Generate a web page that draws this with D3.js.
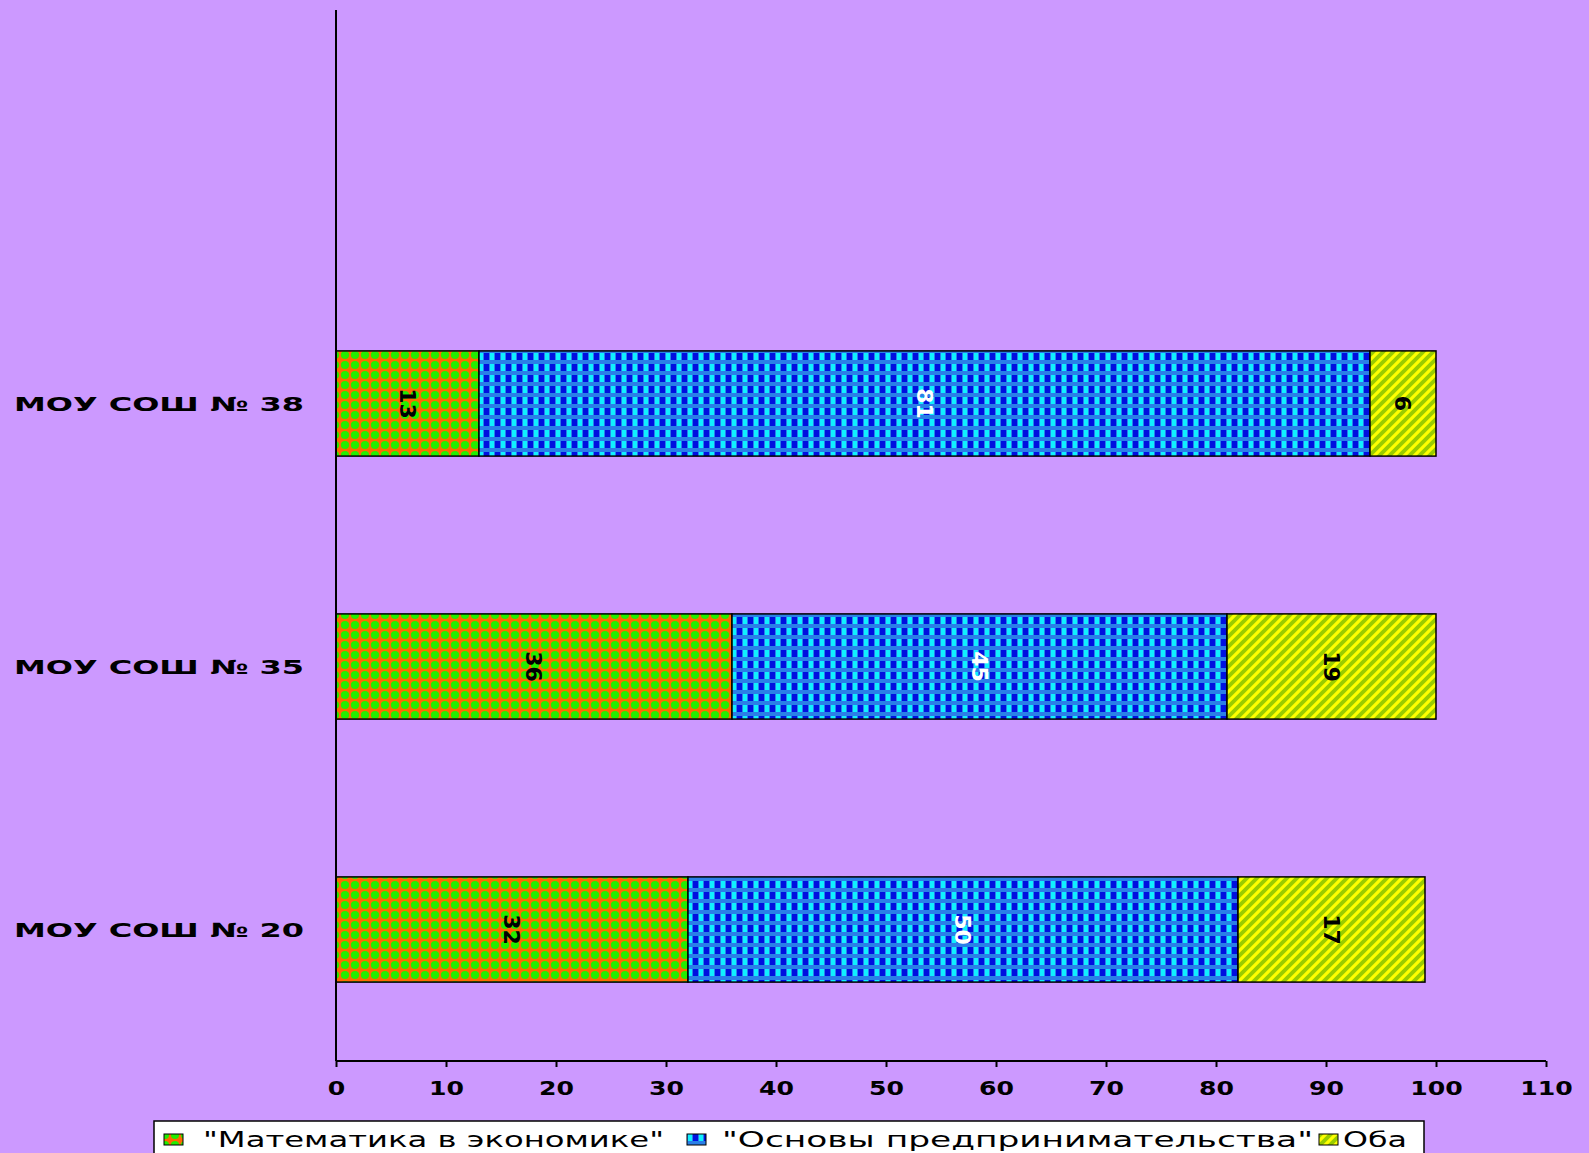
<!DOCTYPE html>
<html>
<head>
<meta charset="utf-8">
<script src="https://cdn.jsdelivr.net/npm/d3@7"></script>
<style>
  html, body { margin: 0; padding: 0; background: #CC99FF; }
  svg { display: block; }
</style>
</head>
<body>
<svg id="chart" width="1589" height="1153"></svg>
<script>
// ---- data ----
const categories = ["МОУ СОШ № 38", "МОУ СОШ № 35", "МОУ СОШ № 20"];
const seriesNames = ["\"Математика в экономике\"", "\"Основы предпринимательства\"", "Оба"];
const mathValues = [13, 36, 32];
const osnovyValues = [81, 45, 50];
const bothValues = [6, 19, 17];
const xTicks = [0, 10, 20, 30, 40, 50, 60, 70, 80, 90, 100, 110];

const W = 1589, H = 1153;
const svg = d3.select("#chart");

// ---- patterns ----
const defs = svg.append("defs");
// orange with green dots
const p1 = defs.append("pattern").attr("id", "pMath").attr("patternUnits", "userSpaceOnUse")
  .attr("width", 10).attr("height", 10);
p1.append("rect").attr("width", 10).attr("height", 10).attr("fill", "#FF6A00");
p1.append("circle").attr("cx", 5).attr("cy", 5).attr("r", 4.1).attr("fill", "#22EE00");
// blue checks
const p2 = defs.append("pattern").attr("id", "pOsn").attr("patternUnits", "userSpaceOnUse")
  .attr("width", 11).attr("height", 11);
p2.append("rect").attr("width", 11).attr("height", 11).attr("fill", "#2A7FE8");
p2.append("rect").attr("x", 0).attr("y", 1).attr("width", 5).attr("height", 7).attr("fill", "#0010E0");
p2.append("rect").attr("x", 6).attr("y", 1).attr("width", 4).attr("height", 7).attr("fill", "#10F0FF");
// yellow diagonal stripes
const p3 = defs.append("pattern").attr("id", "pBoth").attr("patternUnits", "userSpaceOnUse")
  .attr("width", 10).attr("height", 10);
p3.append("rect").attr("width", 10).attr("height", 10).attr("fill", "#99CC00");
p3.append("path").attr("d", "M-2,2 L2,-2 M-2,12 L12,-2 M8,12 L12,8")
  .attr("stroke", "#FFFF00").attr("stroke-width", 3.2);

const fills = ["url(#pMath)", "url(#pOsn)", "url(#pBoth)"];
const labelColors = ["#000", "#fff", "#000"];

// ---- scales ----
const x = d3.scaleLinear().domain([0, 110]).range([336, 1546]);
const y = d3.scaleBand().domain(categories).range([272, 1061]).paddingInner(0.6).paddingOuter(0.3);

// ---- stacked data ----
const rows = categories.map((c, i) => ({ cat: c, s0: mathValues[i], s1: osnovyValues[i], s2: bothValues[i] }));
const stack = d3.stack().keys(["s0", "s1", "s2"]);
const stacked = stack(rows);

// ---- bars ----
stacked.forEach((layer, li) => {
  const g = svg.append("g");
  g.selectAll("rect").data(layer).join("rect")
    .attr("x", d => x(d[0]))
    .attr("y", d => y(d.data.cat))
    .attr("width", d => x(d[1]) - x(d[0]))
    .attr("height", y.bandwidth())
    .attr("fill", fills[li])
    .attr("stroke", "#000").attr("stroke-width", 1.5);
  g.selectAll("text").data(layer).join("text")
    .attr("transform", d => `translate(${x((d[0] + d[1]) / 2)},${y(d.data.cat) + y.bandwidth() / 2}) rotate(90)`)
    .attr("text-anchor", "middle").attr("dy", "0.35em")
    .attr("font-family", "DejaVu Sans, sans-serif").attr("font-weight", "bold")
    .attr("font-size", 22).attr("fill", labelColors[li])
    .text(d => d[1] - d[0]);
});

// ---- axes ----
// vertical axis line
svg.append("line").attr("x1", x(0)).attr("x2", x(0)).attr("y1", 10).attr("y2", 1061)
  .attr("stroke", "#000").attr("stroke-width", 2);

// category labels
svg.append("g").selectAll("text").data(categories).join("text")
  .attr("x", 304).attr("y", d => y(d) + y.bandwidth() / 2).attr("dy", "0.36em")
  .attr("text-anchor", "end")
  .attr("font-family", "DejaVu Sans, sans-serif").attr("font-weight", "bold").attr("font-size", 20)
  .attr("textLength", 290).attr("lengthAdjust", "spacingAndGlyphs")
  .attr("fill", "#000")
  .text(d => d);

// x axis
const xAxis = d3.axisBottom(x).tickValues(xTicks).tickSize(6).tickPadding(14).tickFormat(d3.format("d"));
const gx = svg.append("g").attr("transform", "translate(0,1061)").call(xAxis);
gx.select(".domain").attr("stroke", "#000").attr("stroke-width", 2).attr("d", `M${x(0)},0H${x(110)}`);
gx.selectAll(".tick line").attr("stroke", "#000").attr("stroke-width", 2);
gx.selectAll(".tick text")
  .attr("font-family", "DejaVu Sans, sans-serif").attr("font-weight", "bold").attr("font-size", 20)
  .attr("fill", "#000")
  .attr("textLength", d => String(d).length * 17.5).attr("lengthAdjust", "spacingAndGlyphs");

// ---- legend ----
const lg = svg.append("g");
lg.append("rect").attr("x", 154).attr("y", 1121).attr("width", 1270).attr("height", 45)
  .attr("fill", "#fff").attr("stroke", "#000").attr("stroke-width", 1.5);
const legendSw = [164, 687, 1319];
const legendTx = [203, 722, 1343];
const legendLen = [461, 591, 64];
seriesNames.forEach((n, i) => {
  lg.append("rect").attr("x", legendSw[i]).attr("y", 1134).attr("width", 19).attr("height", 11)
    .attr("fill", fills[i]).attr("stroke", "#000").attr("stroke-width", 1);
  lg.append("text").attr("x", legendTx[i]).attr("y", 1147)
    .attr("font-family", "DejaVu Sans, sans-serif").attr("font-size", 21)
    .attr("textLength", legendLen[i]).attr("lengthAdjust", "spacingAndGlyphs")
    .attr("fill", "#000").text(n);
});
</script>
</body>
</html>
